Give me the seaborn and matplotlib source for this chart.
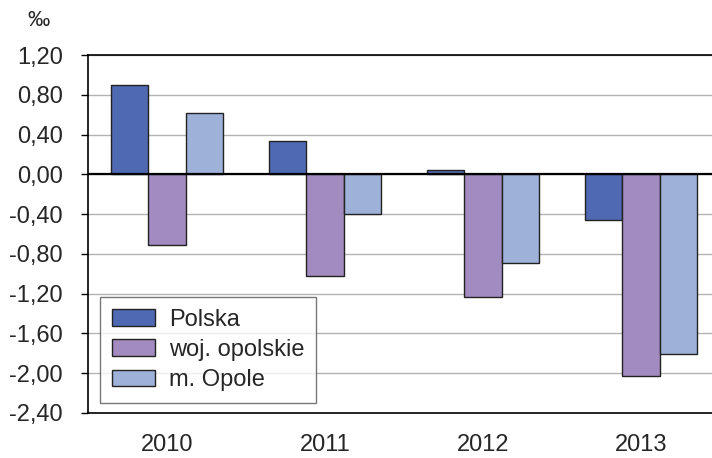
import numpy as np
import pandas as pd
import matplotlib
matplotlib.use("Agg")
import matplotlib.pyplot as plt
import seaborn as sns

years = ["2010", "2011", "2012", "2013"]
series = ["Polska", "woj. opolskie", "m. Opole"]
polska = [0.90, 0.34, 0.04, -0.46]
opolskie = [-0.71, -1.02, -1.23, -2.03]
opole = [0.62, -0.40, -0.89, -1.81]
colors = ["#4F69B3", "#A28BC0", "#9DB1D9"]
yticks = np.arange(-2.4, 1.21, 0.4)

df = pd.DataFrame({
    "year": years * 3,
    "series": [s for s in series for _ in years],
    "value": polska + opolskie + opole,
})

sns.set_style("white")
plt.rcParams["font.family"] = ["Liberation Sans", "DejaVu Sans"]
fs = 17

fig = plt.figure(figsize=(7.12, 4.58), dpi=100)
ax = fig.add_axes([88 / 712, 1 - 413 / 458, 632 / 712, 358 / 458])

sns.barplot(data=df, x="year", y="value", hue="series", hue_order=series,
            palette=colors, width=0.71, edgecolor="#222222", linewidth=1.0,
            saturation=1, ax=ax)

ax.set_ylim(-2.4, 1.2)
ax.set_yticks(yticks)
ax.set_yticklabels([f"{v:.2f}".replace(".", ",").replace("-0,00", "0,00") for v in yticks])
ax.yaxis.grid(True, color="#b3b3b3", linewidth=1.0)
ax.set_axisbelow(True)
ax.axhline(0, color="black", linewidth=1.6, zorder=5)

ax.set_xlabel("")
ax.set_ylabel("")
ax.tick_params(axis="y", labelsize=fs, length=5, width=1, color="black", direction="out", left=True, pad=13)
ax.tick_params(axis="x", labelsize=fs, length=0, pad=15)
for side in ["left", "bottom", "top"]:
    ax.spines[side].set_color("black")
    ax.spines[side].set_linewidth(1.2)
ax.spines["right"].set_visible(False)

leg = ax.legend(loc="lower left", bbox_to_anchor=(0.019, 0.028), borderaxespad=0,
                fontsize=fs, handlelength=1.82, handleheight=0.72,
                labelspacing=0.34, handletextpad=0.6, borderpad=0.5,
                fancybox=False, frameon=True)
leg.get_frame().set_edgecolor("#555555")
leg.get_frame().set_linewidth(1.0)

fig.text(39 / 712, 1 - 20 / 458, "‰", fontsize=16, ha="center", va="center")

fig.savefig("out.png", dpi=100)
